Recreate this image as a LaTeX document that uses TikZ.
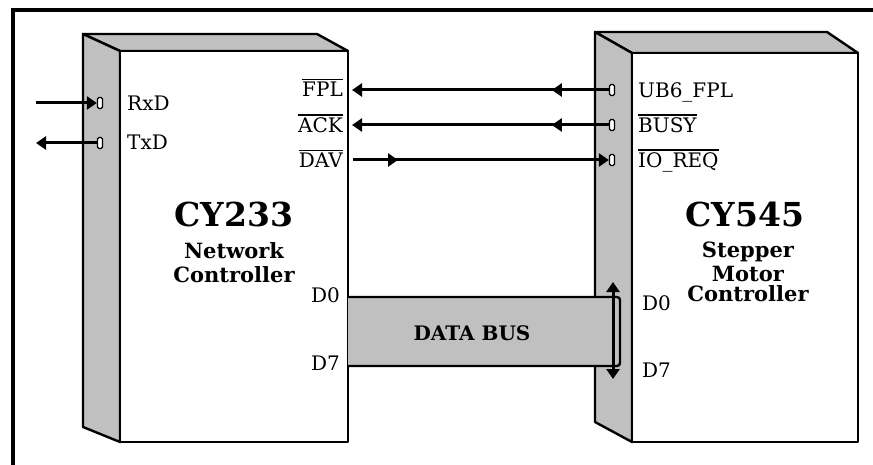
\documentclass[tikz,border=0pt]{standalone}
\usepackage{fontspec}
\setmainfont{DejaVu Serif}
\usetikzlibrary{arrows.meta,decorations.markings,positioning}
\definecolor{chipgray}{RGB}{192,192,192}
\newcommand{\ovbar}[1]{\leavevmode\vbox{\hrule height 1.3pt\kern 2.5pt\hbox{#1}}}

\tikzset{
  face/.style={draw,line width=2.4pt,line join=round},
  pinbox/.style={draw,line width=1.3pt,rounded corners=1.5pt,fill=white,
    minimum width=5pt,minimum height=11pt,inner sep=0pt},
  sig/.style={line width=3pt},
  tip/.style={-{Triangle[width=13pt,length=10pt]}},
  midtip/.style={postaction={decorate},decoration={markings,
    mark=at position #1 with {\arrow{Triangle[width=13pt,length=10pt]}}}},
  lbl/.style={font=\fontsize{20}{24}\selectfont,inner sep=0pt},
  chiptitle/.style={font=\fontsize{33}{36}\selectfont\bfseries,inner sep=0pt},
  chipsub/.style={font=\fontsize{21}{24}\selectfont\bfseries,align=center,inner sep=0pt},
}

\begin{document}
\begin{tikzpicture}[x=1pt,y=-1pt]
\useasboundingbox (0,0) rectangle (873,465);
% frame
\draw[line width=3.5pt] (13,465) -- (13,10) -- (873,10);

% CY233 block
\filldraw[face,fill=chipgray] (83,34) -- (317,34) -- (348,51) -- (120,51) -- cycle;
\filldraw[face,fill=chipgray] (83,34) -- (120,51) -- (120,442) -- (83,427) -- cycle;
\draw[face,fill=white] (120,51) rectangle (348,442);

% CY545 block
\filldraw[face,fill=chipgray] (595,32) -- (827,32) -- (858,53) -- (632,53) -- cycle;
\filldraw[face,fill=chipgray] (595,32) -- (632,53) -- (632,442) -- (595,422) -- cycle;
\draw[face,fill=white] (632,53) rectangle (858,442);

% data bus
\draw[face,fill=chipgray,rounded corners=3pt] (348,297) -- (620,297) -- (620,366) -- (348,366);
\node[lbl,font=\fontsize{20}{24}\selectfont\bfseries,anchor=base] (bus) at (472,340) {DATA BUS};
\coordinate (bustop) at (613,282);
\coordinate (busbot) at (613,379);
\draw[sig,{Triangle[width=13pt,length=10pt]}-{Triangle[width=13pt,length=10pt]}] (bustop) -- (busbot);

% pins
\node[pinbox] (rxd) at (100,103) {};
\node[pinbox] (txd) at (100,143) {};
\node[pinbox] (ub6) at (612,90) {};
\node[pinbox] (busy) at (612,125) {};
\node[pinbox] (ioreq) at (612,160) {};

\coordinate (rxdin) at (36,103);
\coordinate (txdout) at (36,143);
\coordinate (fpl) at (352,90);
\coordinate (ack) at (352,125);
\coordinate (dav) at (353,160);

% signals
\draw[sig,tip] (rxdin) -- (rxd.west);
\draw[sig,tip] (txd.west) -- (txdout);
\draw[sig,tip,midtip=57pt] (ub6.west) -- (fpl);
\draw[sig,tip,midtip=57pt] (busy.west) -- (ack);
\draw[sig,tip,midtip=45pt] (dav) -- (ioreq.west);

% labels CY233
\node[lbl,anchor=base west] (rxdl) at (127,111) {RxD};
\node[lbl,anchor=base west] (txdl) at (127,150) {TxD};
\node[lbl,anchor=base east] (fpll) at (343,97) {\ovbar{FPL}};
\node[lbl,anchor=base east] (ackl) at (343,133) {\ovbar{ACK}};
\node[lbl,anchor=base east] (davl) at (343,168) {\ovbar{DAV}};
\node[lbl,anchor=base east] (d0l) at (340,302) {D0};
\node[lbl,anchor=base east] (d7l) at (340,370) {D7};
\node[chiptitle,anchor=base] (cy233) at (234,227) {CY233};
\node[chipsub,anchor=north] (netc) at (234,242) {Network\\Controller};

% labels CY545
\node[lbl,anchor=base west] (ub6l) at (638,98) {UB6\_FPL};
\node[lbl,anchor=base west] (busyl) at (638,133) {\ovbar{BUSY}};
\node[lbl,anchor=base west] (ioreql) at (638,168) {\ovbar{IO\_REQ}};
\node[lbl,anchor=base west] (d0r) at (642,310) {D0};
\node[lbl,anchor=base west] (d7r) at (642,377) {D7};
\node[chiptitle,anchor=base] (cy545) at (745,227) {CY545};
\node[chipsub,anchor=north] (stepc) at (748,242) {Stepper\\Motor\\[-4pt]Controller};
\end{tikzpicture}
\end{document}
